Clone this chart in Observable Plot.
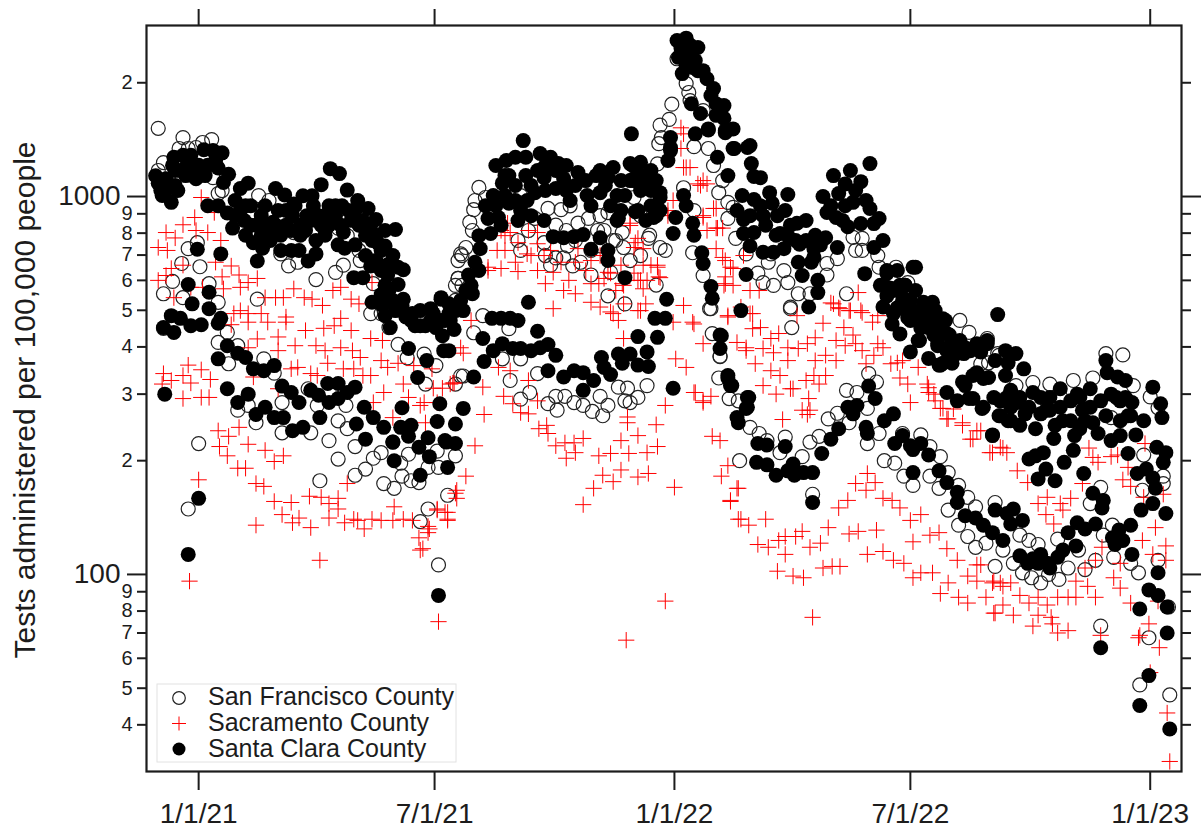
<!DOCTYPE html>
<html><head><meta charset="utf-8">
<script src="https://cdn.jsdelivr.net/npm/d3@7"></script>
<script src="https://cdn.jsdelivr.net/npm/@observablehq/plot@0.6"></script>
<style>html,body{margin:0;padding:0;background:#fff}svg{display:block}</style>
</head><body><div id="chart"></div>
<script>
// Each entry: [days since 1/1/21, tests administered per 100,000 people]
const sanFrancisco = [[-31,1515],[-12,1432],[10,1415],[3,1390],[-15,1340],[-8,1340],[-27,1230],[-31,1172],[-2,1348],[11,1122],[18,1037],[15,1018],[46,1006],[54,976],[36,813],[73,803],[63,705],[69,655],[76,670],[90,603],[105,630],[111,658],[124,677],[123,720],[107,825],[114,788],[97,813],[-8,728],[-1,755],[-13,665],[1,652],[-20,596],[8,588],[-27,553],[15,525],[45,535],[-12,540],[201,705],[199,677],[199,607],[197,582],[197,531],[134,588],[132,490],[140,490],[147,520],
[-27,448],[22,437],[15,411],[23,361],[30,403],[50,372],[58,341],[0,222],[-8,149],[30,272],[38,280],[44,252],[64,285],[84,310],[91,280],[93,177],[64,237],[86,237],[100,226],[107,255],[114,243],[113,280],[120,218],[107,202],[120,183],[128,190],[134,203],[140,210],[142,174],[150,169],[156,182],[163,177],[169,175],[161,208],[149,224],[155,197],[176,192],[183,212],[184,192],[197,206],[191,162],[176,149],[170,138],[184,106],[146,450],[153,406],[160,374],[173,383],[182,357],[174,319],[201,335],
[215,1057],[212,976],[220,994],[211,923],[208,855],[210,813],[205,733],[202,698],[199,607],[202,582],[218,484],[211,436],[238,447],[203,335],[233,372],[247,372],[260,340],[239,326],[197,319],[247,291],[254,303],[268,283],[274,296],[281,296],[275,272],[288,285],[295,280],[302,270],[308,296],[314,280],[310,263],[322,313],[329,311],[327,288],[337,294],[331,285],[344,316],[399,331],[400,378],[394,434],[393,505],[387,618],[358,720],[354,733],[345,775],[325,803],[326,733],[314,546],[327,520],[351,583],[301,620],[316,630],[287,655],[274,688],[245,765],[265,755],[280,688],[311,813],[299,875],[291,850],[278,923],[268,930],[258,875],[314,907],[306,813],[224,918],[247,1006],[285,945],[308,890],[339,890],
[253,813],[274,840],[282,813],[289,765],[301,720],[308,740],[320,765],[331,677],[339,698],[247,720],[266,698],[283,740],[293,670],[270,658],
[352,1220],[354,1545],[363,1755],[361,1600],[355,1432],[353,1380],[367,2315],[374,1990],[376,1885],[377,1794],[387,1688],[380,1355],[391,1340],[395,1208],[402,1102],[399,1024],[406,965],[410,936],[406,875],[412,775],[420,705],[439,705],[437,670],[429,627],[433,592],[441,582],[449,637],[452,592],[460,553],[469,553],[482,620],[490,685],[482,665],[509,775],[502,780],[504,720],[509,720],[521,698],[522,650],[535,650],[544,592],[497,553],[454,510],[346,790],[379,710],[392,505],[372,1055],[380,918],[334,994],[318,765],
[454,505],[455,450],[400,377],[407,292],[414,288],[423,245],[430,236],[450,231],[415,200],[436,226],[446,210],[463,205],[469,224],[476,232],[483,258],[490,267],[497,307],[505,303],[499,252],[513,275],[514,340],[520,323],[522,236],[513,222],[471,163],[540,236],[554,234],[561,218],[569,205],[575,186],[583,172],[526,200],[534,197],[541,182],[548,172],[561,182],[568,169],[575,148],[583,135],[590,126],[596,118],[604,121],[617,116],[611,105],[596,151],[611,155],[584,470],[591,437],[605,421],[614,380],
[625,107],[632,101],[639,98],[646,95],[652,100],[660,97],[667,104],[680,103],[688,109],[675,116],[702,111],[715,107],[721,101],[736,109],[694,127],[701,135],[659,124],[644,120],[637,123],[630,127],[590,160],[613,384],[600,361],[606,363],[640,322],[653,319],[671,326],[686,331],[696,384],[709,381],[717,316],[700,260],[692,170],[684,154],[725,207],[740,182],[724,167],[740,174],[736,276],[730,295],[692,73],[744,82],[729,68],[722,51],[745,48],[627,316],[661,296]];

const sacramento = [[2,994],[-3,880],[-12,842],[-25,803],[-18,777],[-2,813],[7,803],[17,765],[-31,733],[-24,720],[12,907],[13,670],[25,655],[-21,645],[-12,658],[-31,600],[31,620],[18,613],[45,607],[38,592],[32,575],[19,570],[73,570],[59,540],[51,540],[65,540],[81,540],[87,535],[95,515],[103,564],[109,575],[117,535],[123,520],[32,499],[27,490],[48,490],[38,490],[67,480],[109,476],[-25,618],[-19,540],[-6,575],[3,575],[133,592],[145,508],[153,520],
[-27,340],[-8,358],[2,348],[-21,326],[-12,336],[-6,321],[9,328],[-28,319],[-12,292],[2,294],[8,294],[15,240],[23,232],[31,245],[16,218],[38,221],[22,206],[51,213],[65,206],[58,199],[30,191],[36,191],[44,174],[50,171],[58,156],[71,155],[64,144],[44,135],[77,141],[72,137],[86,133],[85,161],[94,160],[107,159],[100,154],[107,149],[100,141],[114,174],[112,137],[119,140],[122,139],[127,132],[133,140],[140,139],[149,139],[150,151],[157,140],[164,139],[177,132],[169,125],[170,116],[183,149],[189,146],[191,140],[197,164],[93,109],[0,178],[-7,96],
[82,442],[67,465],[53,465],[38,465],[25,458],[45,420],[61,425],[74,403],[61,391],[38,398],[96,448],[104,455],[117,442],[132,421],[141,416],[90,403],[97,391],[109,398],[118,391],[124,375],[140,368],[145,353],[153,362],[165,357],[179,350],[187,311],[196,321],[99,362],[111,350],[119,350],[126,336],[132,336],[71,350],[76,353],[86,340],[91,336],[61,310],[42,333],[134,285],[142,303],[149,260],[157,319],[161,294],[170,280],[174,252],[180,311],[193,319],[183,285],[173,285],
[245,633],[222,637],[232,645],[239,803],[235,788],[253,813],[260,803],[245,755],[252,705],[260,750],[265,698],[260,637],[272,630],[266,588],[284,600],[280,564],[289,553],[301,588],[307,588],[314,630],[334,627],[326,582],[339,600],[341,570],[347,658],[352,658],[354,610],[272,505],[301,525],[308,510],[316,495],[322,470],[337,499],[343,520],[326,421],[372,515],[379,465],[364,465],[406,480],[387,408],[366,372],[374,353],[413,411],[420,398],[380,303],[393,296],[358,280],[387,285],[372,1465],[370,1340],[374,1193],[387,1102],[385,1070],[397,930],[387,890],[360,890],[398,825],[390,813],[397,728],[404,677],[410,645],[404,588],[331,850],[335,755],
[235,720],[243,670],[255,698],[270,720],[278,670],[289,670],[297,637],[320,564],[308,698],[324,658],
[237,850],[232,813],[229,720],[222,650],[201,398],[203,385],[209,470],[230,353],[239,346],[195,321],[218,313],[253,326],[234,296],[241,283],[247,268],[253,266],[260,288],[219,265],[329,261],[291,728],[301,677],[212,219],[205,182],[198,167],[198,159],[191,146],[183,148],[191,139],[176,134],[176,129],[172,117],[184,75],[267,248],[261,243],[268,236],[274,219],[281,223],[288,223],[295,229],[289,210],[282,203],[329,252],[351,249],[337,233],[324,226],[352,218],[344,210],[330,209],[316,209],[307,206],[324,189],[310,183],[318,176],[337,181],[345,185],[303,169],[295,153],[365,170],[358,85],[328,67],[394,232],[400,226],[406,194],[401,182],[413,169],[408,157],[414,140],
[370,1520],[372,1193],[377,1193],[383,1080],[390,1080],[395,930],[387,880],[397,825],[402,825],[402,690],[418,698],[408,650],[404,613],[410,582],[403,582],[423,564],[430,564],[341,658],[352,650],[353,613],[344,600],[337,600],[325,588],[331,838],[337,775],[334,733],[341,728],[339,499],[326,520],[316,627],[311,607],[318,490],[416,510],[406,484],[423,490],[459,484],[485,523],[491,508],[499,499],[506,557],[508,499],[521,484],[360,918],[364,976],
[380,460],[420,391],[425,490],[425,447],[431,450],[433,396],[439,421],[445,434],[441,386],[452,398],[460,396],[467,408],[473,423],[427,361],[439,346],[446,336],[452,368],[433,316],[443,300],[454,310],[456,310],[466,326],[481,380],[473,368],[489,368],[472,336],[481,336],[476,319],[468,292],[463,272],[467,265],[469,272],[448,257],[487,520],[492,505],[500,499],[509,493],[479,462],[495,450],[502,430],[489,416],[496,403],[504,408],[509,391],[517,465],[521,408],[518,380],[525,398],[512,361],[531,361],[536,363],[538,331],[544,319],[546,285],[552,353],[559,319],[560,303],[565,288],[571,275],[579,274],[575,258],[586,248],[594,228],[597,240],[609,210],[617,216],
[381,303],[387,288],[414,169],[408,156],[416,140],[435,140],[422,135],[429,120],[437,118],[445,123],[450,126],[458,126],[463,130],[450,113],[469,118],[477,121],[444,102],[456,99],[464,98],[479,104],[486,105],[492,105],[483,133],[491,150],[498,157],[499,128],[506,130],[520,131],[513,113],[504,174],[513,185],[519,175],[512,167],[525,159],[532,157],[538,150],[546,139],[554,144],[548,122],[561,127],[568,129],[574,117],[582,109],[525,115],[533,109],[541,107],[548,98],[554,101],[563,101],[590,99],[597,106],[597,96],[609,95],[617,93],[569,89],[575,95],[583,87],[590,84],[604,87],[617,83],[610,79],[471,77],
[540,368],[560,312],[564,300],[569,275],[574,258],[586,252],[592,228],[600,240],[607,210],[615,217],[620,210],[628,188],[636,175],[651,160],[644,154],[661,154],[669,159],[678,174],[663,148],[650,144],[656,136],[683,216],[686,204],[690,198],[700,205],[705,207],[713,192],[709,178],[715,171],[726,222],[725,160],[740,163],[734,133],[724,123],[742,119],[732,113],[742,109],[693,118],[688,109],[680,104],[707,107],[702,98],[707,92],[682,93],[673,96],[673,87],[688,87],[715,84],[659,87],[667,87],[651,83],[644,87],[637,84],[630,88],[644,78],[654,77],[640,73],[625,78],[611,79],[615,95],[623,95],[610,96],[600,106],[659,70],[667,71],[729,74],[722,69],[692,69],[655,74],[737,64],[730,55],[743,43],[745,32],[736,85],[721,68]];

const santaClara = [[-31,1085],[-33,1135],[-29,1037],[-28,1006],[-25,1115],[-21,965],[-20,1210],[-18,1070],[-16,1037],[-19,1270],[-14,1172],[-12,1285],[-9,1210],[-6,1140],[-2,1115],[0,1210],[4,1330],[7,1210],[11,1323],[13,1210],[18,1305],[15,1190],[23,1145],[19,1090],
[-25,1037],[-18,1172],[-10,1136],[-2,1208],[5,1136],[13,1245],[-6,1285],
[7,945],[15,945],[22,905],[26,825],[35,864],[32,1050],[38,1085],[42,755],[49,730],[45,675],[55,795],[59,1050],[66,1010],[63,720],[71,720],[77,720],[73,955],[80,1005],[87,1005],[94,1075],[101,1185],[108,1150],[114,1040],[122,976],[130,930],[136,870],[143,813],[151,818],[84,675],[90,705],[90,765],[97,790],[107,745],[112,730],[119,610],[126,610],[132,655],[138,750],[145,660],[153,650],[157,640],[145,620],[153,585],[146,565],[140,550],[133,525],[157,535],
[28,976],[32,918],[40,945],[44,840],[48,890],[51,945],[57,855],[61,918],[67,840],[72,890],[78,840],[83,890],[88,945],[94,840],[100,945],[105,890],[110,945],[117,865],[123,840],[128,790],[133,765],[140,720],[55,765],[63,790],[78,790],[100,840],[111,805],[120,745],
[28,890],[36,945],[40,840],[36,790],[48,790],[51,840],[59,840],[67,918],[71,813],[74,945],[82,813],[86,864],[97,890],[92,890],[105,945],[109,840],[115,918],[120,918],[126,864],[132,840],[136,790],[143,740],[149,698],[140,637],[136,677],[128,698],[143,582],
[141,515],[149,531],[156,515],[164,490],[170,499],[178,505],[186,535],[192,520],[197,499],[189,470],[182,465],[174,455],[166,455],[159,480],[147,450],[187,428],[192,391],
[143,484],[151,499],[163,470],[170,455],[178,470],[186,470],[193,470],
[-26,300],[0,159],[-8,113],[-1,725],[17,705],[-8,585],[8,558],[-27,450],[-19,437],[-21,484],[-14,476],[-5,520],[2,458],[8,505],[15,462],[17,476],[-6,455],[22,403],[15,372],[30,385],[36,375],[42,350],[50,346],[58,357],[22,310],[38,300],[30,285],[51,277],[44,265],[58,260],[65,260],[72,240],[80,245],[64,315],[71,303],[77,285],[86,307],[92,298],[99,320],[107,320],[120,313],[114,303],[107,292],[100,285],[93,260],[121,250],[127,277],[134,260],[142,245],[155,245],[163,248],[161,232],[156,276],[128,228],[149,224],[150,200],[169,217],[176,230],[177,205],[170,183],[191,192],[183,254],[185,283],[197,250],[189,226],[197,222],[168,332],[175,368],[161,396],[188,391],[184,88],[203,275],[190,224],
[249,1406],[262,1300],[236,1245],[243,1270],[251,1270],[270,1270],[276,1222],[238,1136],[260,1172],[280,1115],[291,1158],[308,1172],[318,1193],[331,1222],[339,1232],[332,1465],[362,1432],[381,1465],[391,1500],[404,1494],[411,1340],[398,1270],[421,1348],[406,1136],[362,1348],[360,1245],[226,1006],[233,1085],[238,960],[252,976],[258,1024],[265,1122],[274,1050],[285,976],[298,1006],[308,1024],[321,1006],[322,875],[337,918],[334,1115],[344,1122],[354,994],[351,890],[343,864],[222,875],[230,880],[224,798],[215,788],[245,864],[265,864],[216,728],[212,670],[207,620],[210,553],[186,540],[201,531],[203,499],[192,490],[196,445],[180,490],[182,450],[218,421],
[228,1208],[235,1136],[243,1070],[251,1136],[255,1070],[266,1208],[266,1037],[274,1172],[282,1037],[282,1208],[289,1070],[297,1102],[301,945],[305,1136],[312,1070],[316,945],[324,1102],[327,1006],[331,1102],[339,1037],[339,1136],[347,1037],[347,945],[354,918],[351,1102],[220,945],[228,945],[232,840],[235,1006],[243,976],[247,918],[255,890],[209,582],[215,637],[205,564],[199,515],
[225,476],[232,476],[239,476],[245,470],[253,525],[272,783],[280,778],[288,783],[295,793],[308,778],[301,725],[314,720],[314,677],[327,610],[359,535],[366,880],[372,1006],[374,945],[379,850],[380,790],[364,798],[386,710],[387,665],[393,578],[394,538],[416,499],[350,476],[358,476],[337,426],[352,424],[400,430],[400,396],
[260,440],[226,391],[233,408],[241,396],[247,396],[255,391],[262,398],[268,406],[219,366],[211,333],[274,380],[268,346],[280,333],[288,346],[295,342],[303,326],[295,307],[309,375],[311,353],[316,338],[322,383],[331,383],[344,388],[325,362],[337,358],[345,355],[364,311],[406,336],[408,316],[421,294],[420,275],[413,260],
[367,2587],[374,2625],[383,2480],[368,2335],[375,2360],[379,2195],[371,2115],[383,2153],[390,2050],[395,1930],[378,1760],[385,1658],[397,1760],[403,1740],[403,1610],[391,1510],[404,1475],[410,1510],[362,1323],[410,1340],[423,1364],[424,1222],[426,1130],[431,1122],[417,1006],[426,982],[438,1024],[452,1012],[433,890],[444,890],[440,960],[413,918],[418,870],[418,798],[426,803],[446,798],[453,778],[459,850],[466,864],[461,748],[433,712],[441,712],[449,728],[472,728],[472,690],[481,778],[490,733],[460,670],[463,618],[475,600],[475,557],[468,510],[420,622],[511,625],
[370,2470],[377,2515],[374,2220],[381,2290],[387,2153],[393,1850],[397,1640],[423,890],[431,945],[435,840],[443,790],[450,918],[454,840],[458,765],[466,765],[473,790],[477,745],[470,670],[423,740],
[515,1222],[487,1136],[500,1172],[508,1095],[496,1080],[479,1000],[491,1018],[502,965],[515,930],[522,875],[482,907],[489,880],[498,832],[508,848],[518,848],[525,765],[518,733],[528,637],[542,582],[533,564],[525,510],[548,650],[548,499],[540,531],[528,575],[533,490],
[504,1037],[496,945],[512,976],[485,945],[494,864],
[314,1122],[333,1208],[347,1172],[334,1102],[344,1080],[354,1024],[352,936],[349,880],[335,912],[324,918],[321,864],
[401,428],[406,331],[409,316],[422,294],[421,277],[414,252],[429,222],[436,220],[450,218],[428,198],[436,195],[443,183],[452,188],[456,196],[457,183],[464,186],[471,186],[478,209],[485,228],[491,243],[498,277],[505,280],[502,266],[512,245],[513,236],[514,315],[519,292],[526,255],[533,266],[471,155],
[534,222],[540,233],[546,219],[554,222],[548,214],[560,207],[548,186],[568,188],[574,175],[582,165],[582,155],[588,143],[596,141],[602,135],[609,129],[617,123],[611,148],[620,145],[609,234],[613,487],
[532,460],[538,433],[546,388],[553,416],[567,408],[560,373],[568,358],[574,391],[579,408],[574,303],[582,288],[588,316],[594,336],[602,330],[594,292],[602,277],[610,294],[620,294],[605,416],[597,408],[588,398],[615,263],[623,255],[544,505],[556,478],[569,456],[561,508],[574,434],[546,470],[536,505],[554,449],[564,430],[582,386],
[523,582],[528,546],[536,637],[538,582],[546,531],[550,564],[554,499],[565,499],[573,470],[576,430],[584,416],[592,391],[600,388],[611,368],[619,391],
[550,650],[528,626],[531,572],[542,582],[541,537],[556,525],[563,525],[536,508],[544,478],[556,490],[565,470],[571,475],[552,416],[560,450],[571,434],[578,408],[581,383],[627,384],[696,368],[621,363],[571,362],[633,350],
[567,403],[569,358],[578,362],[587,384],[597,398],[605,408],[619,336],[597,342],[606,332],[586,323],[591,292],[601,275],[614,263],[621,255],[630,248],[642,243],[609,233],[623,307],[628,285],[640,303],[653,272],[661,310],[674,300],[684,310],[663,255],[676,243],[678,272],[690,236],[700,226],[707,233],[686,252],[700,300],[707,288],[716,285],[713,263],[725,255],[719,234],[697,342],[705,333],[711,326],[732,313],[738,283],[739,260],
[630,294],[637,277],[646,294],[650,272],[653,294],[661,277],[669,288],[669,255],[676,294],[684,277],[680,255],[692,288],[696,263],[704,294],[711,294],[715,263],[707,255],[615,288],[623,277],[646,266],[657,248],[634,266],[672,233],
[656,229],[648,210],[642,206],[637,202],[671,213],[664,198],[650,190],[644,179],[657,177],[679,185],[686,164],[694,157],[693,150],[713,209],[735,217],[742,210],[740,198],[727,190],[720,185],[732,180],[734,169],[732,154],[723,148],[742,145],
[625,149],[632,139],[623,136],[630,112],[640,110],[646,113],[644,107],[651,107],[659,111],[663,116],[673,119],[667,129],[674,137],[680,132],[688,136],[701,125],[706,131],[715,135],[709,123],[703,120],[716,113],[736,101],[729,91],[736,88],[743,82],[722,81],[743,70],[692,64],[729,54],[722,45],[745,39],[636,107],[653,104]];

const dateTicks = ["2021-01-01","2021-07-01","2022-01-01","2022-07-01","2023-01-01"].map(d => new Date(d));
const dateLabels = ["1/1/21","7/1/21","1/1/22","7/1/22","1/1/23"];
const decadeTicks = [1000, 100];
const minorTicks = [2000,900,800,700,600,500,400,300,200,90,80,70,60,50,40];
const legendEntries = ["San Francisco County","Sacramento County","Santa Clara County"];
const yTitle = "Tests administered per 100,000 people";
const font = "'Liberation Sans', Helvetica, Arial, sans-serif";
const ink = "#1c1c1c";

const rows = a => a.map(([d, v]) => ({date: new Date(Date.UTC(2021, 0, 1 + d)), tests: v}));
const leading = v => String(v).charAt(0);
const blank = () => "";

function overlay() {
  const g = d3.create("svg:g").attr("font-family", font).attr("fill", ink);
  g.append("text").attr("transform", "translate(35,400) rotate(-90)")
    .attr("text-anchor", "middle").attr("font-size", 30).text(yTitle);
  const box = g.append("g");
  box.append("rect").attr("x", 157).attr("y", 684).attr("width", 299).attr("height", 78)
    .attr("fill", "#fff").attr("stroke", "#e2e2e2");
  box.append("circle").attr("cx", 179).attr("cy", 698).attr("r", 6.3)
    .attr("fill", "none").attr("stroke", "#222").attr("stroke-width", 1.2);
  box.append("path").attr("d", "M172,723.5H186M179,716.5V730.5").attr("stroke", "#f00").attr("stroke-width", 1).attr("fill", "none");
  box.append("circle").attr("cx", 179).attr("cy", 749).attr("r", 6.5).attr("fill", "#000");
  legendEntries.forEach((t, i) => {
    box.append("text").attr("x", 208).attr("y", [705, 731, 757][i]).attr("text-anchor", "start").attr("font-size", 25).text(t);
  });
  return g.node();
}

const chart = Plot.plot({
  width: 1202, height: 834,
  marginLeft: 146, marginRight: 21, marginTop: 25, marginBottom: 63,
  style: {fontFamily: font, background: "#fff", color: ink},
  x: {type: "utc", domain: [new Date("2020-11-22"), new Date("2023-01-25")]},
  y: {type: "log", domain: [30.1, 2835]},
  marks: [
    Plot.dot(rows(sanFrancisco), {x: "date", y: "tests", r: 7, fill: "none", stroke: "#222", strokeWidth: 1.2}),
    Plot.dot(rows(sacramento), {x: "date", y: "tests", symbol: "plus", r: 5.3, stroke: "#ff0000", strokeWidth: 1}),
    Plot.dot(rows(santaClara), {x: "date", y: "tests", r: 7.5, fill: "#000", stroke: "none"}),
    Plot.frame({stroke: ink, strokeWidth: 2.2}),
    Plot.axisX({ticks: dateTicks, tickFormat: (d, i) => dateLabels[i], tickSize: 19, tickPadding: 13, fontSize: 28, strokeWidth: 2, stroke: ink, label: null}),
    Plot.axisX({anchor: "top", ticks: dateTicks, tickFormat: blank, tickSize: 17, strokeWidth: 2, stroke: ink, label: null}),
    Plot.axisY({ticks: decadeTicks, tickFormat: blank, tickSize: 19, strokeWidth: 2, stroke: ink, label: null}),
    Plot.axisY({ticks: minorTicks, tickFormat: blank, tickSize: 9, strokeWidth: 2, stroke: ink, label: null}),
    Plot.axisY({anchor: "right", ticks: decadeTicks, tickFormat: blank, tickSize: 19, strokeWidth: 2, stroke: ink, label: null}),
    Plot.axisY({anchor: "right", ticks: minorTicks, tickFormat: blank, tickSize: 9, strokeWidth: 2, stroke: ink, label: null}),
    Plot.text(decadeTicks, {y: d => d, text: d => String(d), frameAnchor: "left", dx: -26, textAnchor: "end", fontSize: 28, fill: ink}),
    Plot.text(minorTicks, {y: d => d, text: leading, frameAnchor: "left", dx: -14, textAnchor: "end", fontSize: 20, fill: ink}),
    overlay
  ]
});
document.getElementById("chart").append(chart);
</script></body></html>
